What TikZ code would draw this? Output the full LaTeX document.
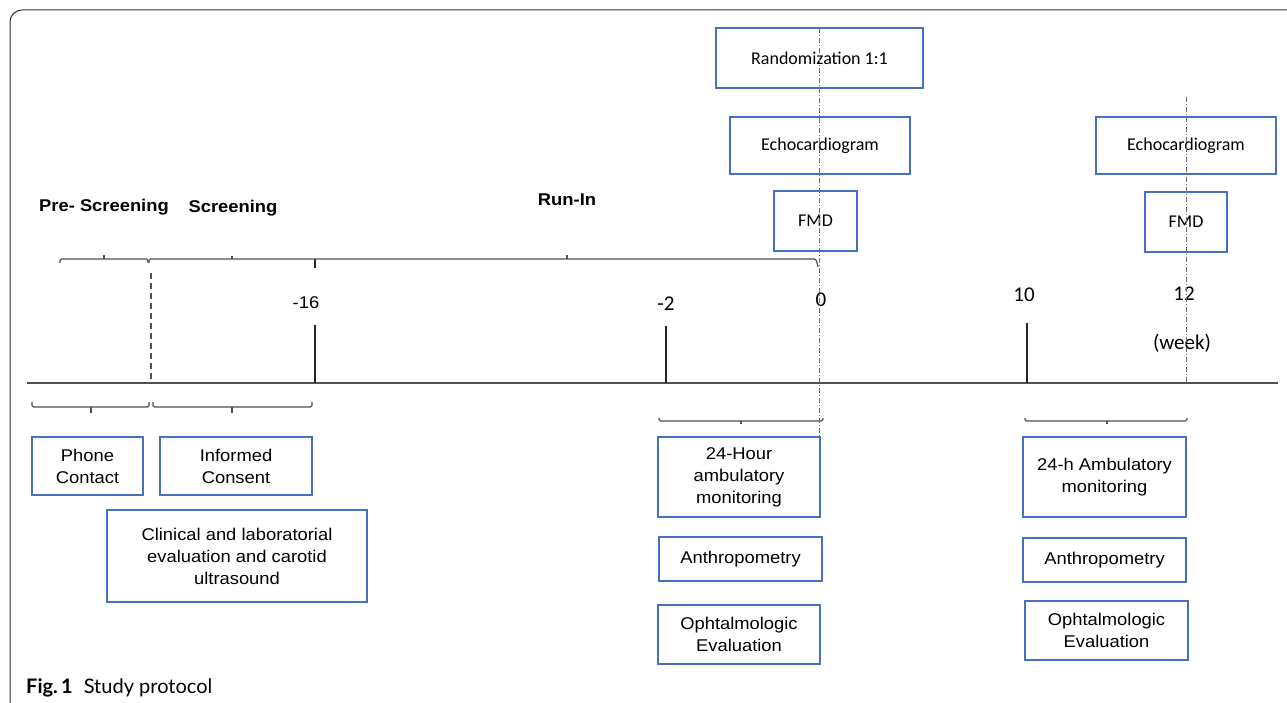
\documentclass[tikz,border=0pt]{standalone}
\usepackage{fontspec}
\newfontfamily\arialf{Liberation Sans}[FakeStretch=1.08]
\newfontfamily\calf{Carlito}
\newfontfamily\capf{Lato}
\definecolor{boxblue}{RGB}{72,112,192}
\definecolor{linegray}{RGB}{80,80,80}
\definecolor{dashgray}{RGB}{110,110,110}
\begin{document}
\begin{tikzpicture}[x=1pt,y=-1pt,
  bx/.style={draw=boxblue, line width=1.3pt, rectangle, inner sep=0pt, align=center, text=black},
  abox/.style={bx, font=\arialf\fontsize{17}{22}\selectfont},
  cbox/.style={bx, font=\calf\fontsize{18}{22}\selectfont},
  br/.style={draw=linegray, line width=1.2pt, rounded corners=1.5pt},
  tick/.style={draw=black!85, line width=1.3pt},
  num/.style={font=\calf\fontsize{21}{24}\selectfont, inner sep=0pt},
  anum/.style={font=\arialf\fontsize{17}{20}\selectfont, inner sep=0pt},
  phase/.style={font=\arialf\bfseries\fontsize{17}{20}\selectfont, inner sep=0pt},
  dashdot/.style={draw=dashgray, line width=0.9pt, dash pattern=on 5pt off 2pt on 1pt off 2pt},
]
\useasboundingbox (0,0) rectangle (1287,703);
% frame
\draw[black!80, line width=1pt, rounded corners=12pt] (10,705) -- (10,10) -- (1290,10);

% top boxes
\node[cbox, minimum width=207pt, minimum height=60pt] (rand) at (819.5,58) {Randomization 1:1};
\node[cbox, minimum width=180pt, minimum height=57pt] (echoL) at (820,145.5) {Echocardiogram};
\node[cbox, minimum width=83pt, minimum height=60pt] (fmdL) at (815.5,221) {FMD};
\node[cbox, minimum width=180pt, minimum height=57pt] (echoR) at (1186,145.5) {Echocardiogram};
\node[cbox, minimum width=82pt, minimum height=60pt] (fmdR) at (1186,222) {FMD};

% phase labels
\node[phase] (pre) at (104,207) {Pre- Screening};
\node[phase] (scr) at (233,208) {Screening};
\node[phase] (run) at (567,200) {Run-In};

% numbers
\node[anum] (m16) at (306,303) {-16};
\node[num] (m2) at (666,304) {-2};
\node[num] (zero) at (821,300) {0};
\node[num] (ten) at (1024,295) {10};
\node[num] (twelve) at (1184,294) {12};
\node[num] (week) at (1182,343) {(week)};

% axis
\draw[linegray, line width=1.6pt] (27,383) -- (1278,383);
% ticks
\draw[tick] (315,259) -- (315,268);
\draw[tick] (315,325) -- (315,383);
\draw[tick] (666,326) -- (666,383);
\draw[tick] (1027,323) -- (1027,383);
% dashed line
\draw[linegray, line width=1.2pt, dash pattern=on 6pt off 4pt] (151,273) -- (151,383);
% dash-dot lines
\draw[dashdot] (819,28) -- (819,437);
\draw[dashdot] (1186,97) -- (1186,383);

% top brackets
\draw[br] (60,263) -- (60,259) -- (148,259) -- (148,263);
\draw[br] (104,259) -- (104,255);
\draw[br] (149,263) -- (149,259) -- (816,259) -- (818,267);
\draw[br] (232,259) -- (232,256);
\draw[br] (567,259) -- (567,255);

% bottom brackets
\draw[br] (32,402) -- (32,407) -- (149,407) -- (149,402);
\draw[br] (91,407) -- (91,413);
\draw[br] (153,402) -- (153,407) -- (312,407) -- (312,402);
\draw[br] (232,407) -- (232,413);
\draw[br] (659,418) -- (659,421) -- (823,421) -- (823,418);
\draw[br] (741,421) -- (741,424);
\draw[br] (1025,418) -- (1025,421) -- (1187,421) -- (1187,418);
\draw[br] (1107,421) -- (1107,424);

% bottom boxes
\node[abox, minimum width=111pt, minimum height=58pt] (phone) at (87.5,466) {Phone\\Contact};
\node[abox, minimum width=152pt, minimum height=58pt] (consent) at (236,466) {Informed\\Consent};
\node[abox, minimum width=260pt, minimum height=92pt] (clin) at (237,556) {Clinical and laboratorial\\evaluation and carotid\\ultrasound};
\node[abox, minimum width=162pt, minimum height=80pt] (amb1) at (739,477) {24-Hour\\ambulatory\\monitoring};
\node[abox, minimum width=163pt, minimum height=44pt] (anth1) at (740.5,559) {Anthropometry};
\node[abox, minimum width=162pt, minimum height=59pt] (oph1) at (739,634.5) {Ophtalmologic\\Evaluation};
\node[abox, minimum width=163pt, minimum height=80pt] (amb2) at (1104.5,477) {24-h Ambulatory\\monitoring};
\node[abox, minimum width=163pt, minimum height=44pt] (anth2) at (1104.5,560) {Anthropometry};
\node[abox, minimum width=163pt, minimum height=59pt] (oph2) at (1106.5,630.5) {Ophtalmologic\\Evaluation};

% caption
\node[anchor=base west, inner sep=0pt, font=\capf\fontsize{20}{24}\selectfont] (cap) at (26,693) {\textbf{Fig.\,1}\hspace{0.55em}Study protocol};
\end{tikzpicture}
\end{document}
